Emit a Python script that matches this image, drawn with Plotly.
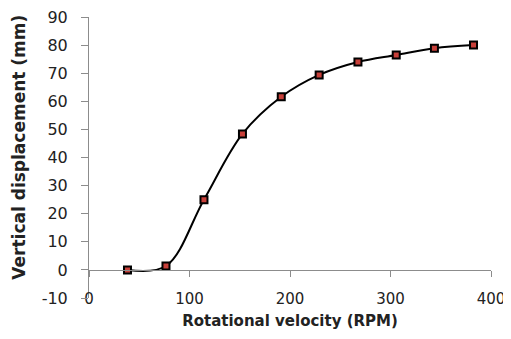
import plotly.graph_objects as go

rpm = [38.3, 76.6, 114.4, 152.7, 191.3, 229.0, 267.6, 305.7, 343.7, 382.6]
displacement = [0.0, 1.4, 25.0, 48.4, 61.6, 69.4, 74.0, 76.5, 78.9, 80.0]

x_ticks = [0, 100, 200, 300, 400]
y_ticks = [-10, 0, 10, 20, 30, 40, 50, 60, 70, 80, 90]
y_tick_text = ["-10", "0", "10", "20", "30", "40", "50", "60", "70", "80", "90"]

FONT = "DejaVu Sans"
AXIS_COLOR = "#8c8c8c"

fig = go.Figure()
fig.add_trace(go.Scatter(
    x=rpm, y=displacement, mode="lines+markers",
    line=dict(color="black", width=2, shape="spline", smoothing=1),
    marker=dict(symbol="square", size=7, color="#c8403a",
                line=dict(color="black", width=2)),
    xaxis="x2", showlegend=False,
))
fig.add_trace(go.Scatter(x=[0, 400], y=[0, 0], mode="markers",
                         marker=dict(opacity=0), hoverinfo="skip", showlegend=False))

# page body has an 8px default margin, so the figure is 8px smaller
fig.update_layout(
    width=503, height=331,
    margin=dict(l=81, r=20, t=9, b=41, autoexpand=False),
    paper_bgcolor="white", plot_bgcolor="white",
    font=dict(family=FONT, size=15, color="#222"),
    xaxis=dict(range=[0, 400], tickvals=x_ticks, showline=False, showgrid=False,
               zeroline=False, ticks="", anchor="free", position=0.035,
               automargin=False, tickfont=dict(size=15), ticklabeloverflow="allow",
               title=dict(text="<b>Rotational velocity (RPM)</b>", standoff=8,
                          font=dict(size=15))),
    xaxis2=dict(range=[0, 400], tickvals=x_ticks, overlaying="x", anchor="free",
                position=0.1, showline=True, linecolor=AXIS_COLOR, linewidth=1,
                ticks="outside", ticklen=6, tickcolor=AXIS_COLOR, automargin=False,
                showticklabels=False, showgrid=False, zeroline=False, side="bottom"),
    yaxis=dict(range=[-10, 90], tickvals=y_ticks, ticktext=y_tick_text,
               showline=True, linecolor=AXIS_COLOR, automargin=False,
               linewidth=1, ticks="outside", ticklen=7, tickcolor=AXIS_COLOR,
               showgrid=False, zeroline=False, tickfont=dict(size=16),
               ticklabelstandoff=10, ticklabeloverflow="allow"),
    annotations=[dict(text="<b>Vertical displacement (mm)</b>", textangle=-90,
                      xref="paper", yref="paper", x=-70/402, y=0.535,
                      xanchor="center", yanchor="middle", showarrow=False,
                      font=dict(size=17))],
)
fig.write_html("out.html")
